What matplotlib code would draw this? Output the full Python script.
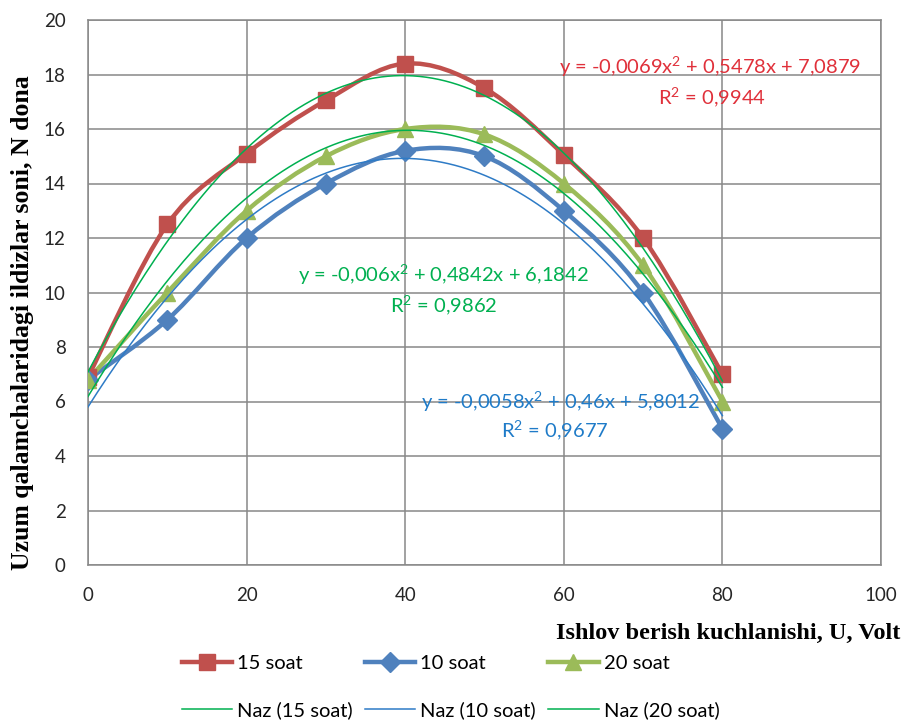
import numpy as np
import matplotlib
matplotlib.use('Agg')
import matplotlib.pyplot as plt
from matplotlib.path import Path
from matplotlib.patches import PathPatch
from matplotlib.lines import Line2D

plt.rcParams['font.family'] = ['Lato', 'DejaVu Sans']
plt.rcParams['mathtext.fontset'] = 'custom'
plt.rcParams['mathtext.rm'] = 'Lato'
plt.rcParams['mathtext.it'] = 'Lato'
plt.rcParams['mathtext.default'] = 'rm'

# data
voltage = [0, 10, 20, 30, 40, 50, 60, 70, 80]
roots_15h = [6.9, 12.5, 15.1, 17.05, 18.4, 17.5, 15.05, 12.0, 7.0]
roots_10h = [6.8, 9.0, 12.0, 14.0, 15.2, 15.0, 13.0, 10.0, 5.0]
roots_20h = [6.8, 10.0, 13.0, 15.0, 16.0, 15.8, 14.0, 11.0, 6.0]

# polynomial trendline coefficients as printed on the chart (x^2, x, 1)
coef_15h = [-0.0069, 0.5478, 7.0879]
coef_10h = [-0.0058, 0.46, 5.8012]
coef_20h = [-0.006, 0.4842, 6.1842]

eq_15h = ['y = -0,0069x$^{2}$ + 0,5478x + 7,0879', 'R$^{2}$ = 0,9944']
eq_10h = ['y = -0,0058x$^{2}$ + 0,46x + 5,8012', 'R$^{2}$ = 0,9677']
eq_20h = ['y = -0,006x$^{2}$ + 0,4842x + 6,1842', 'R$^{2}$ = 0,9862']

RED, BLUE, GREEN = '#C0504D', '#4F81BD', '#9BBB59'
TR_GREEN, TR_BLUE = '#00B050', '#2E7BC6'


def smooth_path(xs, ys):
    """Excel-like smoothed line: cubic Bezier through the points (Catmull-Rom)."""
    pts = np.column_stack([xs, ys]).astype(float)
    n = len(pts)
    verts = [pts[0]]
    codes = [Path.MOVETO]
    for i in range(n - 1):
        p0 = pts[max(i - 1, 0)]
        p1 = pts[i]
        p2 = pts[i + 1]
        p3 = pts[min(i + 2, n - 1)]
        c1 = p1 + (p2 - p0) / 6.0
        c2 = p2 - (p3 - p1) / 6.0
        verts += [c1, c2, p2]
        codes += [Path.CURVE4] * 3
    return Path(verts, codes)


fig = plt.figure(figsize=(9.04, 7.21), dpi=100)
ax = fig.add_axes([88 / 904, 1 - 565 / 721, 793 / 904, 545 / 721])

series = [
    (roots_15h, RED, 's', 12, '15 soat'),
    (roots_10h, BLUE, 'D', 10, '10 soat'),
    (roots_20h, GREEN, '^', 12, '20 soat'),
]
for vals, col, mk, ms, lab in series:
    ax.add_patch(PathPatch(smooth_path(voltage, vals), fill=False,
                           edgecolor=col, lw=3.2, zorder=3,
                           capstyle='round', joinstyle='round'))
    ax.plot(voltage, vals, ls='none', marker=mk, ms=ms, color=col,
            mec=col, zorder=4)

# trendlines over the measured range
xt = np.linspace(voltage[0], voltage[-1], 200)
trends = [(coef_15h, TR_GREEN), (coef_10h, TR_BLUE), (coef_20h, TR_GREEN)]
for coef, col in trends:
    ax.plot(xt, np.polyval(coef, xt), color=col, lw=1.1, zorder=5)

# trendline equations
EQ_FS = 14.5
ax.text(78.4, 18.27, eq_15h[0], color='#E0303A', fontsize=EQ_FS, ha='center', va='center')
ax.text(78.7, 17.17, eq_15h[1], color='#E0303A', fontsize=EQ_FS, ha='center', va='center')
ax.text(44.8, 10.64, eq_20h[0], color='#00B050', fontsize=EQ_FS, ha='center', va='center')
ax.text(44.8, 9.54, eq_20h[1], color='#00B050', fontsize=EQ_FS, ha='center', va='center')
ax.text(59.6, 5.98, eq_10h[0], color='#1F7BC8', fontsize=EQ_FS, ha='center', va='center')
ax.text(58.8, 4.95, eq_10h[1], color='#1F7BC8', fontsize=EQ_FS, ha='center', va='center')

ax.set_xlim(0, 100)
ax.set_ylim(0, 20)
ax.set_xticks(range(0, 101, 20))
ax.set_yticks(range(0, 21, 2))
ax.grid(True, color='#888888', lw=1.1)
ax.set_axisbelow(True)
for sp in ax.spines.values():
    sp.set_color('#888888')
    sp.set_linewidth(1.1)
ax.tick_params(length=0, labelsize=13.5, colors='#262626')
ax.tick_params(axis='x', pad=16)
ax.tick_params(axis='y', pad=16)

# axis titles
fig.text(23 / 904, 1 - 323 / 721, 'Uzum qalamchalaridagi ildizlar soni, N dona',
         rotation=90, ha='center', va='center', fontsize=18.5,
         fontweight='bold', family='Liberation Serif')
fig.text(728 / 904, 1 - 633 / 721, 'Ishlov berish kuchlanishi, U, Volt',
         ha='center', va='center', fontsize=17.5,
         fontweight='bold', family='Liberation Serif')

# legend: series on the first row, trendlines on the second
handles = [
    Line2D([], [], color=RED, lw=3.2, marker='s', ms=12),
    Line2D([], [], color=TR_GREEN, lw=1.1),
    Line2D([], [], color=BLUE, lw=3.2, marker='D', ms=10),
    Line2D([], [], color=TR_BLUE, lw=1.1),
    Line2D([], [], color=GREEN, lw=3.2, marker='^', ms=12),
    Line2D([], [], color=TR_GREEN, lw=1.1),
]
labels = ['15 soat', 'Naz (15 soat)', '10 soat', 'Naz (10 soat)',
          '20 soat', 'Naz (20 soat)']
fig.legend(handles, labels, ncol=3, loc='upper left',
           bbox_to_anchor=(182 / 904, 1 - 655 / 721), frameon=False,
           fontsize=14.5, handlelength=2.5, handletextpad=0.25,
           columnspacing=0.6, labelspacing=1.45, borderpad=0,
           borderaxespad=0)

fig.savefig('out.png', dpi=100, facecolor='white')
